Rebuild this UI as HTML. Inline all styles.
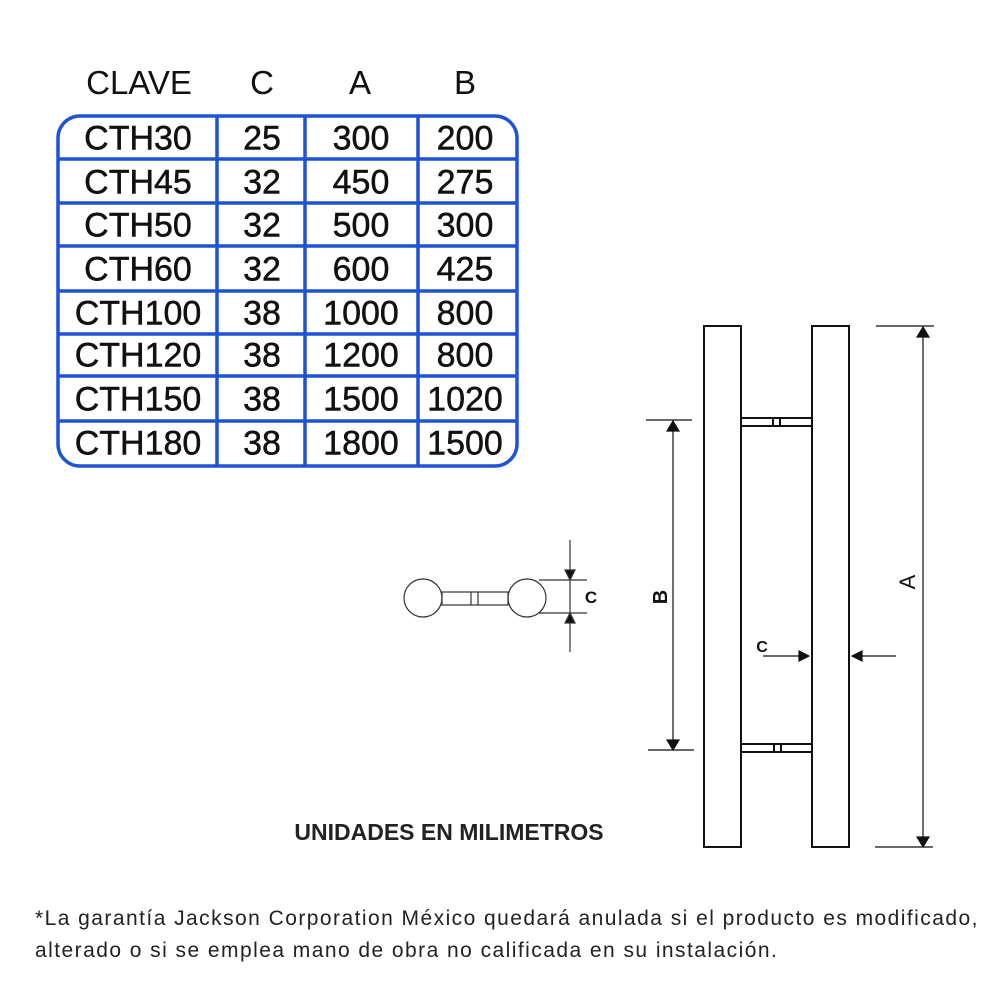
<!DOCTYPE html>
<html><head><meta charset="utf-8"><style>
body{margin:0;width:1000px;height:1000px;background:#fff;position:relative;overflow:hidden;font-family:"Liberation Sans",sans-serif}
.h{position:absolute;top:64px;font-size:33px;color:#111;transform:translateX(-50%)}
.t{position:absolute;font-size:34px;color:#111;transform:translate(-50%,-50%);-webkit-text-stroke:0.5px #111;white-space:nowrap}
.f{position:absolute;left:35px;font-size:21px;letter-spacing:1.45px;color:#222;white-space:nowrap}
</style></head><body>
<div class="h" style="left:139px">CLAVE</div>
<div class="h" style="left:262px">C</div>
<div class="h" style="left:360px">A</div>
<div class="h" style="left:465px">B</div>
<svg width="1000" height="1000" style="position:absolute;left:0;top:0">
<g stroke="#1f52d6" stroke-width="3.5" fill="none">
<rect x="58" y="116" width="459" height="350" rx="22"/>
<line x1="217" y1="116" x2="217" y2="466"/><line x1="305" y1="116" x2="305" y2="466"/><line x1="418" y1="116" x2="418" y2="466"/>
<line x1="58" y1="159" x2="517" y2="159"/><line x1="58" y1="203" x2="517" y2="203"/><line x1="58" y1="246" x2="517" y2="246"/><line x1="58" y1="291" x2="517" y2="291"/><line x1="58" y1="334" x2="517" y2="334"/><line x1="58" y1="376" x2="517" y2="376"/><line x1="58" y1="421" x2="517" y2="421"/>
</g>
<g stroke="#111" stroke-width="2" fill="none">
<rect x="704" y="326" width="37" height="521"/>
<rect x="812" y="326" width="37" height="521"/>
<rect x="741" y="418" width="71" height="8"/><line x1="773" y1="418" x2="773" y2="426"/><line x1="780" y1="418" x2="780" y2="426"/>
<rect x="741" y="744" width="71" height="8"/><line x1="774" y1="744" x2="774" y2="752"/><line x1="781" y1="744" x2="781" y2="752"/>
</g>
<g stroke="#111" stroke-width="1.2" fill="#111">
<line x1="646" y1="420" x2="692" y2="420"/><line x1="648" y1="750" x2="694" y2="750"/>
<line x1="673" y1="428" x2="673" y2="742"/>
<polygon points="673,421 667,431 679,431"/><polygon points="673,750 667,740 679,740"/>
<line x1="876" y1="326" x2="934" y2="326"/><line x1="875" y1="847" x2="933" y2="847"/>
<line x1="923" y1="334" x2="923" y2="840"/>
<polygon points="923,327 917,337 929,337"/><polygon points="923,847 917,837 929,837"/>
<line x1="763" y1="656" x2="800" y2="656"/><polygon points="809,656 799,651 799,661"/>
<line x1="860" y1="656" x2="896" y2="656"/><polygon points="852,656 862,651 862,661"/>
</g>
<g stroke="#333" stroke-width="1.2" fill="none">
<circle cx="423" cy="598" r="19"/><circle cx="527" cy="598" r="19"/>
<rect x="442" y="592" width="66" height="13"/><line x1="471" y1="592" x2="471" y2="605"/><line x1="478" y1="592" x2="478" y2="605"/>
<line x1="539" y1="580" x2="587" y2="580"/><line x1="539" y1="613" x2="587" y2="613"/>
<line x1="570" y1="540" x2="570" y2="572"/><line x1="570" y1="580" x2="570" y2="613"/><line x1="570" y1="622" x2="570" y2="652"/>
<polygon points="570,580 565,570 575,570" fill="#111"/><polygon points="570,613 565,623 575,623" fill="#111"/>
</g>
<text x="591" y="603" font-family="Liberation Sans" font-weight="bold" font-size="17" fill="#111" text-anchor="middle">C</text>
<text x="762" y="652" font-family="Liberation Sans" font-weight="bold" font-size="16" fill="#111" text-anchor="middle">C</text>
<text transform="translate(667,597) rotate(-90)" font-family="Liberation Sans" font-weight="bold" font-size="20" fill="#111" text-anchor="middle">B</text>
<text transform="translate(915,582) rotate(-90)" font-family="Liberation Sans" font-size="22" fill="#111" text-anchor="middle">A</text>
<text x="449" y="840" font-family="Liberation Sans" font-weight="bold" font-size="23" fill="#222" text-anchor="middle">UNIDADES EN MILIMETROS</text>
</svg>
<div class="t" style="left:138px;top:139px">CTH30</div><div class="t" style="left:262px;top:139px">25</div><div class="t" style="left:361px;top:139px">300</div><div class="t" style="left:465px;top:139px">200</div>
<div class="t" style="left:138px;top:183px">CTH45</div><div class="t" style="left:262px;top:183px">32</div><div class="t" style="left:361px;top:183px">450</div><div class="t" style="left:465px;top:183px">275</div>
<div class="t" style="left:138px;top:226px">CTH50</div><div class="t" style="left:262px;top:226px">32</div><div class="t" style="left:361px;top:226px">500</div><div class="t" style="left:465px;top:226px">300</div>
<div class="t" style="left:138px;top:270px">CTH60</div><div class="t" style="left:262px;top:270px">32</div><div class="t" style="left:361px;top:270px">600</div><div class="t" style="left:465px;top:270px">425</div>
<div class="t" style="left:138px;top:314px">CTH100</div><div class="t" style="left:262px;top:314px">38</div><div class="t" style="left:361px;top:314px">1000</div><div class="t" style="left:465px;top:314px">800</div>
<div class="t" style="left:138px;top:356px">CTH120</div><div class="t" style="left:262px;top:356px">38</div><div class="t" style="left:361px;top:356px">1200</div><div class="t" style="left:465px;top:356px">800</div>
<div class="t" style="left:138px;top:400px">CTH150</div><div class="t" style="left:262px;top:400px">38</div><div class="t" style="left:361px;top:400px">1500</div><div class="t" style="left:465px;top:400px">1020</div>
<div class="t" style="left:138px;top:444px">CTH180</div><div class="t" style="left:262px;top:444px">38</div><div class="t" style="left:361px;top:444px">1800</div><div class="t" style="left:465px;top:444px">1500</div>
<div class="f" style="top:907px">*La garantía Jackson Corporation México quedará anulada si el producto es modificado,</div>
<div class="f" style="top:939px">alterado o si se emplea mano de obra no calificada en su instalación.</div>
</body></html>
